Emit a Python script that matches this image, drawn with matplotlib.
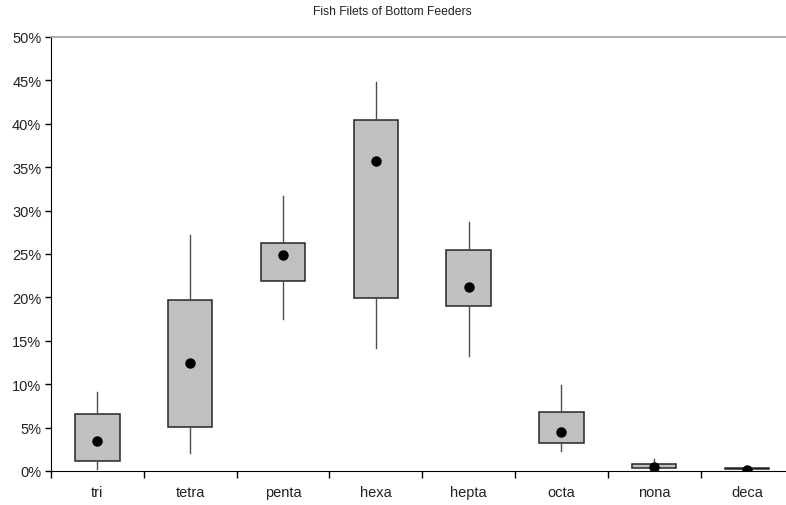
import numpy as np
import matplotlib
matplotlib.use("Agg")
import matplotlib.pyplot as plt
from matplotlib.ticker import FuncFormatter

plt.rcParams['font.family'] = ['Liberation Sans', 'DejaVu Sans']

#=============== data (percent) ===============
cats = ['tri', 'tetra', 'penta', 'hexa', 'hepta', 'octa', 'nona', 'deca']
whis_lo = [0.23, 2.03, 17.55, 14.2, 13.2, 2.35, 0.30, 0.20]
q1      = [1.15, 5.03, 21.9, 19.9, 18.97, 3.2, 0.38, 0.23]
mean    = [3.5, 12.4, 24.9, 35.7, 21.2, 4.45, 0.45, 0.13]
q3      = [6.6, 19.7, 26.3, 40.4, 25.5, 6.8, 0.80, 0.31]
whis_hi = [9.14, 27.2, 31.7, 44.8, 28.65, 9.9, 1.38, 0.33]

stats = []
for i in range(len(cats)):
    stats.append(dict(label=cats[i], whislo=whis_lo[i], q1=q1[i], med=mean[i],
                      q3=q3[i], whishi=whis_hi[i], mean=mean[i]))

fig = plt.figure(figsize=(7.86, 5.06), dpi=100)
# right edge of the plot runs past the figure edge, as in the reference
ax = fig.add_axes([51/786, 34/506, 742.4/786, 434/506])

ax.bxp(stats, positions=np.arange(1, len(cats) + 1), widths=0.48,
       patch_artist=True, showmeans=True, showcaps=False, showfliers=False,
       boxprops=dict(facecolor='#c0c0c0', edgecolor='#262626', linewidth=1.1),
       whiskerprops=dict(color='#4d4d4d', linewidth=1.0),
       medianprops=dict(linewidth=0),
       meanprops=dict(marker='o', markerfacecolor='black', markeredgecolor='black',
                      markersize=6.5))

ax.set_xlim(0.5, 8.5)
ax.set_ylim(0, 50)
ax.set_yticks(np.arange(0, 51, 5))
ax.yaxis.set_major_formatter(FuncFormatter(lambda v, p: '%d%%' % v))

ax.set_xticks(np.arange(1, len(cats) + 1))
ax.set_xticklabels(cats)
ax.set_xticks(np.arange(0.5, len(cats) + 1, 1), minor=True)
ax.tick_params(axis='x', which='major', length=0, pad=10, labelsize=10.5, labelcolor='#222222')
ax.tick_params(axis='x', which='minor', length=5, width=1, color='black', direction='out')
ax.tick_params(axis='y', length=4, width=1, direction='out', labelsize=10.5, labelcolor='#222222', pad=3)

ax.spines['right'].set_visible(False)
ax.spines['top'].set_color('#a0a0a0')
ax.spines['top'].set_linewidth(1.2)
ax.spines['left'].set_color('black')
ax.spines['bottom'].set_color('black')

fig.text(392/786, 1 - 12/506, 'Fish Filets of Bottom Feeders', ha='center', va='center',
         fontsize=8.7, color='#222222')

fig.savefig('out.png', dpi=100)
